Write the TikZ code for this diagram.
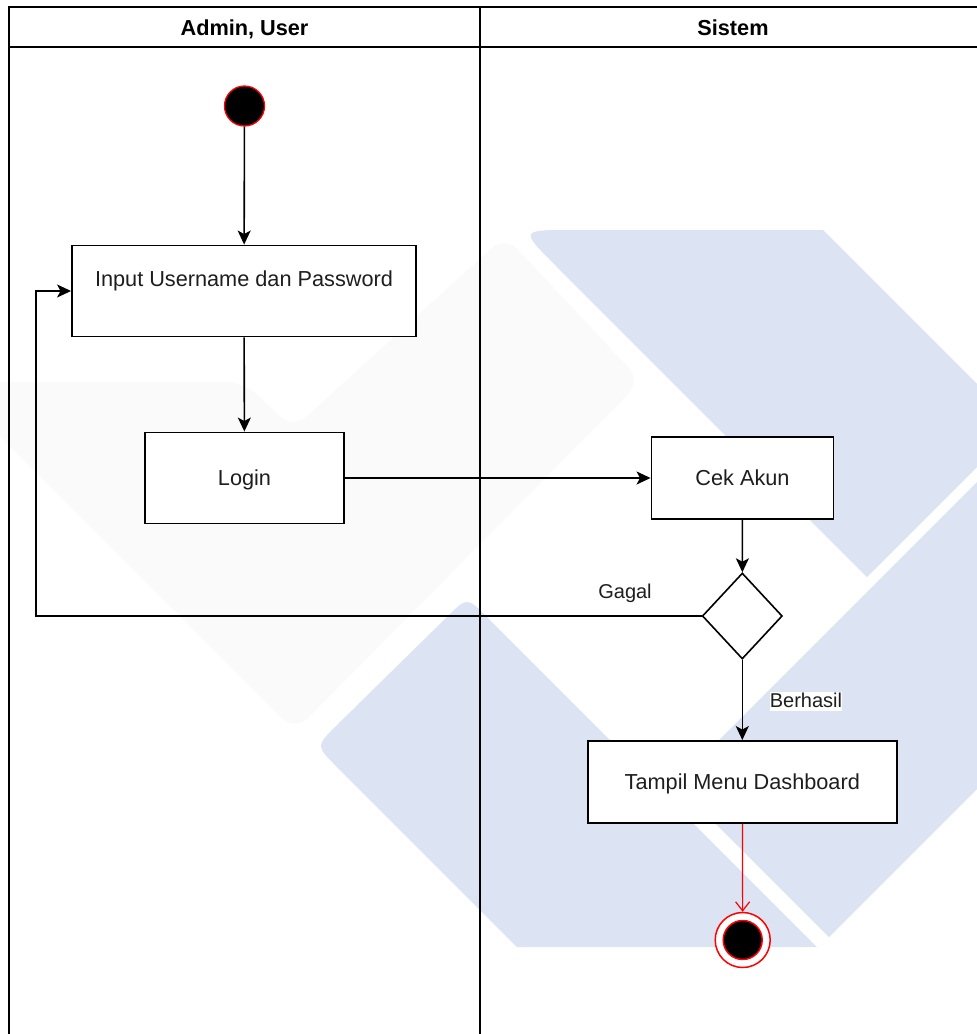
\documentclass[tikz,border=0pt]{standalone}
\usepackage{fontspec}
\setmainfont{Liberation Sans}
\usetikzlibrary{arrows.meta,shapes.geometric}
\definecolor{wmblue}{RGB}{220,227,242}
\definecolor{wmgray}{RGB}{250,250,250}
\definecolor{txt}{RGB}{30,30,30}
\begin{document}
\begin{tikzpicture}[x=1pt,y=-1pt,
  act/.style={draw=black, line width=1.9pt, fill=white, rectangle, inner sep=0pt,
    text=txt, font=\fontsize{21.7}{26}\selectfont, text height=15.5pt, text depth=0pt},
  flow/.style={line width=1.6pt, -{Stealth[length=14pt,width=13pt,inset=3.5pt]}},
  endflow/.style={draw=red, line width=1.2pt, -{Straight Barb[length=9pt,width=14pt]}},
  lane/.style={line width=1.6pt},
  lanehead/.style={font=\fontsize{21.7}{26}\selectfont\bfseries, text height=15.5pt, text depth=0pt},
  guard/.style={font=\fontsize{20}{24}\selectfont, text=txt, inner sep=0pt, text height=15pt, text depth=4pt},
]
\useasboundingbox (0,0) rectangle (977,1034);
\fill[white] (0,0) rectangle (977,1034);

% background logo
\begin{scope}
  \clip (0,0) rectangle (977,1034);
  \fill[wmgray, rounded corners=18pt] (-20,382) -- (244,382) -- (293,429) -- (505,236)
    -- (641,381) -- (295,731) -- (-20,416) -- cycle;
  \fill[wmblue] (867,577) -- (556,266) .. controls (520,230) .. (572,230) -- (823,230)
    -- (1000,407) -- (1000,444) -- cycle;
  \fill[wmblue] (517,947) -- (336,766) .. controls (316,746) .. (336,726) -- (447,617)
    .. controls (467,597) .. (487,617) -- (817,947) -- cycle;
  \fill[wmblue] (675.5,783.5) -- (829,937) -- (1000,766) -- (1000,459) -- cycle;
\end{scope}

% swimlanes
\draw[lane] (9,1034) -- (9,7) -- (977,7);
\draw[lane] (9,47) -- (977,47);
\draw[lane] (480,7) -- (480,1034);
\node[lanehead] (laneA) at (244.5,28) {Admin, User};
\node[lanehead] (laneB) at (733,28) {Sistem};

% activities
\node[circle, fill=black, draw=red, line width=1.3pt, minimum size=40pt, inner sep=0pt] (start) at (244.5,106) {};
\node[act, minimum width=344pt, minimum height=91pt, text height=16pt, text depth=24.4pt] (inp) at (244,291) {Input Username dan Password};
\node[act, minimum width=199pt, minimum height=91pt] (login) at (244.5,478) {Login};
\node[act, minimum width=182pt, minimum height=82pt] (cek) at (742.5,478) {Cek Akun};
\node[diamond, draw=black, fill=white, line width=1.6pt, minimum width=80pt, minimum height=86pt, inner sep=0pt] (dec) at (742.3,616) {};
\node[act, minimum width=309pt, minimum height=82pt] (dash) at (742.3,782) {Tampil Menu Dashboard};
\node[circle, draw=red, fill=white, line width=1.5pt, minimum size=55pt, inner sep=0pt] (end) at (742.7,940) {};
\node[circle, fill=black, draw=red, line width=1.5pt, minimum size=39pt, inner sep=0pt] (endcore) at (end.center) {};

% flows
\coordinate (loopx) at (36,0);
\draw[flow] (start) -- (inp);
\draw[flow] (inp) -- (login);
\draw[flow] (login) -- (cek);
\draw[flow] (cek) -- (dec);
\draw[flow] (dec.west) -- (dec.west -| loopx) |- (inp.west);
\draw[flow] (dec) -- (dash);
\draw[endflow] (dash) -- (end);

% guards
\node[guard] (gagal) at (625,593) {Gagal};
\node[guard, fill=white] (berhasil) at (806,701.5) {Berhasil};
\end{tikzpicture}
\end{document}
